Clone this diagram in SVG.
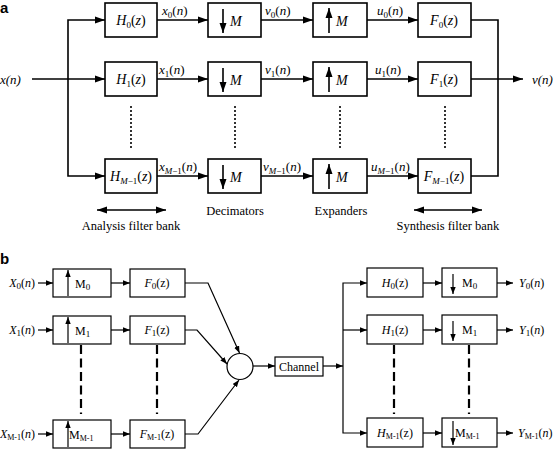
<svg xmlns="http://www.w3.org/2000/svg" width="553" height="450" viewBox="0 0 553 450">
<defs>
<marker id="ah" markerUnits="userSpaceOnUse" markerWidth="11" markerHeight="8" refX="10" refY="4" orient="auto-start-reverse"><path d="M0,0.5 L10,4 L0,7.5 z" fill="#000"/></marker>
<marker id="ahb" markerUnits="userSpaceOnUse" markerWidth="8" markerHeight="6" refX="7" refY="3" orient="auto-start-reverse"><path d="M0,0.3 L7,3 L0,5.7 z" fill="#000"/></marker>
</defs>
<style>
.bx{fill:#fff;stroke:#000;stroke-width:1.6}
.bxb{fill:#fff;stroke:#000;stroke-width:1.2}
.ln{fill:none;stroke:#000;stroke-width:1.6}
.lnb{fill:none;stroke:#000;stroke-width:1.2}
.dot{fill:none;stroke:#000;stroke-width:1.6;stroke-dasharray:2,2}
.dash{fill:none;stroke:#000;stroke-width:2.2;stroke-dasharray:9,4.5}
text{font-family:'Liberation Serif','Times New Roman','DejaVu Serif',serif;fill:#000}
.t{font-size:14px}
.tl{font-size:13px}
.tb{font-size:12px}
.lab{font-size:12.5px}
.i{font-style:italic}
.s{font-size:9px}
.ss{font-size:8px}
text.hd{font-family:'Liberation Sans',Arial,sans-serif;font-weight:bold;font-size:15px}
</style>

<text class="hd" x="0" y="13">a</text>
<text class="hd" x="0" y="264">b</text>

<!-- Part a connectors -->
<g id="connectors-a">
<line class="ln" x1="32" y1="79" x2="105" y2="79" marker-end="url(#ah)"/>
<path class="ln" d="M105,20 H68 V176 H105" marker-start="url(#ah)" marker-end="url(#ah)"/>
<line class="ln" x1="157" y1="20" x2="208" y2="20" marker-end="url(#ah)"/>
<line class="ln" x1="157" y1="79" x2="208" y2="79" marker-end="url(#ah)"/>
<line class="ln" x1="157" y1="176" x2="208" y2="176" marker-end="url(#ah)"/>
<line class="ln" x1="261" y1="20" x2="313" y2="20" marker-end="url(#ah)"/>
<line class="ln" x1="261" y1="79" x2="313" y2="79" marker-end="url(#ah)"/>
<line class="ln" x1="261" y1="176" x2="313" y2="176" marker-end="url(#ah)"/>
<line class="ln" x1="367" y1="20" x2="418" y2="20" marker-end="url(#ah)"/>
<line class="ln" x1="367" y1="79" x2="418" y2="79" marker-end="url(#ah)"/>
<line class="ln" x1="367" y1="176" x2="418" y2="176" marker-end="url(#ah)"/>
<path class="ln" d="M471,20 H498 V176 H471"/>
<line class="ln" x1="471" y1="79" x2="523" y2="79" marker-end="url(#ah)"/>
<line class="dot" x1="131" y1="106" x2="131" y2="148"/>
<line class="dot" x1="235" y1="106" x2="235" y2="148"/>
<line class="dot" x1="340" y1="106" x2="340" y2="148"/>
<line class="dot" x1="445" y1="106" x2="445" y2="148"/>
<line class="ln" x1="97" y1="210" x2="166" y2="210" marker-start="url(#ah)" marker-end="url(#ah)"/>
<line class="ln" x1="414" y1="210" x2="482" y2="210" marker-start="url(#ah)" marker-end="url(#ah)"/>
</g>

<!-- Part a labels -->
<text class="tl i" x="0" y="84">x(n)</text>
<text class="tl i" x="532" y="84">v(n)</text>
<text class="tl" x="162" y="15"><tspan class="i">x</tspan><tspan class="s" dy="3">0</tspan><tspan dy="-3">(</tspan><tspan class="i">n</tspan>)</text>
<text class="tl" x="159" y="74"><tspan class="i">x</tspan><tspan class="s" dy="3">1</tspan><tspan dy="-3">(</tspan><tspan class="i">n</tspan>)</text>
<text class="tl" x="159" y="171"><tspan class="i">x</tspan><tspan class="s i" dy="3">M</tspan><tspan class="s">−1</tspan><tspan dy="-3">(</tspan><tspan class="i">n</tspan>)</text>
<text class="tl" x="265" y="15"><tspan class="i">v</tspan><tspan class="s" dy="3">0</tspan><tspan dy="-3">(</tspan><tspan class="i">n</tspan>)</text>
<text class="tl" x="265" y="74"><tspan class="i">v</tspan><tspan class="s" dy="3">1</tspan><tspan dy="-3">(</tspan><tspan class="i">n</tspan>)</text>
<text class="tl" x="263" y="171"><tspan class="i">v</tspan><tspan class="s i" dy="3">M</tspan><tspan class="s">−1</tspan><tspan dy="-3">(</tspan><tspan class="i">n</tspan>)</text>
<text class="tl" x="377" y="15"><tspan class="i">u</tspan><tspan class="s" dy="3">0</tspan><tspan dy="-3">(</tspan><tspan class="i">n</tspan>)</text>
<text class="tl" x="375" y="74"><tspan class="i">u</tspan><tspan class="s" dy="3">1</tspan><tspan dy="-3">(</tspan><tspan class="i">n</tspan>)</text>
<text class="tl" x="371" y="171"><tspan class="i">u</tspan><tspan class="s i" dy="3">M</tspan><tspan class="s">−1</tspan><tspan dy="-3">(</tspan><tspan class="i">n</tspan>)</text>
<text class="lab" x="131" y="230" text-anchor="middle">Analysis filter bank</text>
<text class="lab" x="235" y="215" text-anchor="middle">Decimators</text>
<text class="lab" x="341" y="215" text-anchor="middle">Expanders</text>
<text class="lab" x="448" y="230" text-anchor="middle">Synthesis filter bank</text>

<!-- Part a nodes -->
<g id="a-H0"><rect class="bx" x="105" y="3" width="52" height="34"/><text class="t" x="131" y="25" text-anchor="middle"><tspan class="i">H</tspan><tspan class="s" dy="3">0</tspan><tspan dy="-3">(</tspan><tspan class="i">z</tspan>)</text></g>
<g id="a-H1"><rect class="bx" x="105" y="62" width="52" height="34"/><text class="t" x="131" y="84" text-anchor="middle"><tspan class="i">H</tspan><tspan class="s" dy="3">1</tspan><tspan dy="-3">(</tspan><tspan class="i">z</tspan>)</text></g>
<g id="a-HM"><rect class="bx" x="105" y="159" width="52" height="34"/><text class="t" x="131" y="181" text-anchor="middle"><tspan class="i">H</tspan><tspan class="s i" dy="3">M</tspan><tspan class="s">−1</tspan><tspan dy="-3">(</tspan><tspan class="i">z</tspan>)</text></g>

<g id="a-D0"><rect class="bx" x="208" y="3" width="53" height="34"/><line class="ln" x1="223" y1="9" x2="223" y2="33" marker-end="url(#ah)"/><text class="t i" x="230" y="26">M</text></g>
<g id="a-D1"><rect class="bx" x="208" y="62" width="53" height="34"/><line class="ln" x1="223" y1="68" x2="223" y2="92" marker-end="url(#ah)"/><text class="t i" x="230" y="85">M</text></g>
<g id="a-DM"><rect class="bx" x="208" y="159" width="53" height="34"/><line class="ln" x1="223" y1="165" x2="223" y2="189" marker-end="url(#ah)"/><text class="t i" x="230" y="182">M</text></g>

<g id="a-E0"><rect class="bx" x="313" y="3" width="54" height="34"/><line class="ln" x1="329" y1="33" x2="329" y2="8" marker-end="url(#ah)"/><text class="t i" x="336" y="26">M</text></g>
<g id="a-E1"><rect class="bx" x="313" y="62" width="54" height="34"/><line class="ln" x1="329" y1="92" x2="329" y2="67" marker-end="url(#ah)"/><text class="t i" x="336" y="85">M</text></g>
<g id="a-EM"><rect class="bx" x="313" y="159" width="54" height="34"/><line class="ln" x1="329" y1="189" x2="329" y2="164" marker-end="url(#ah)"/><text class="t i" x="336" y="182">M</text></g>

<g id="a-F0"><rect class="bx" x="418" y="3" width="53" height="34"/><text class="t" x="444" y="25" text-anchor="middle"><tspan class="i">F</tspan><tspan class="s" dy="3">0</tspan><tspan dy="-3">(</tspan><tspan class="i">z</tspan>)</text></g>
<g id="a-F1"><rect class="bx" x="418" y="62" width="53" height="34"/><text class="t" x="444" y="84" text-anchor="middle"><tspan class="i">F</tspan><tspan class="s" dy="3">1</tspan><tspan dy="-3">(</tspan><tspan class="i">z</tspan>)</text></g>
<g id="a-FM"><rect class="bx" x="418" y="159" width="53" height="34"/><text class="t" x="444" y="181" text-anchor="middle"><tspan class="i">F</tspan><tspan class="s i" dy="3">M</tspan><tspan class="s">−1</tspan><tspan dy="-3">(</tspan><tspan class="i">z</tspan>)</text></g>

<!-- Part b connectors -->
<g id="connectors-b">
<line class="lnb" x1="38" y1="283" x2="53" y2="283" marker-end="url(#ahb)"/>
<line class="lnb" x1="38" y1="330" x2="53" y2="330" marker-end="url(#ahb)"/>
<line class="lnb" x1="38" y1="434" x2="53" y2="434" marker-end="url(#ahb)"/>
<line class="lnb" x1="111" y1="283" x2="130" y2="283" marker-end="url(#ahb)"/>
<line class="lnb" x1="111" y1="330" x2="130" y2="330" marker-end="url(#ahb)"/>
<line class="lnb" x1="111" y1="434" x2="130" y2="434" marker-end="url(#ahb)"/>
<path class="lnb" d="M185,283 H208 L239.5,353" marker-end="url(#ahb)"/>
<path class="lnb" d="M185,330 H197 L227,364" marker-end="url(#ahb)"/>
<path class="lnb" d="M185,434 H198 L239,380" marker-end="url(#ahb)"/>
<line class="lnb" x1="253" y1="366" x2="275" y2="366" marker-end="url(#ahb)"/>
<line class="lnb" x1="323" y1="366" x2="343" y2="366" marker-end="url(#ahb)"/>
<path class="lnb" d="M367,283 H343 V433 H367" marker-start="url(#ahb)" marker-end="url(#ahb)"/>
<line class="lnb" x1="343" y1="330" x2="367" y2="330" marker-end="url(#ahb)"/>
<line class="lnb" x1="423" y1="283" x2="442" y2="283" marker-end="url(#ahb)"/>
<line class="lnb" x1="423" y1="330" x2="442" y2="330" marker-end="url(#ahb)"/>
<line class="lnb" x1="423" y1="433" x2="442" y2="433" marker-end="url(#ahb)"/>
<line class="lnb" x1="497" y1="283" x2="513" y2="283" marker-end="url(#ahb)"/>
<line class="lnb" x1="497" y1="330" x2="513" y2="330" marker-end="url(#ahb)"/>
<line class="lnb" x1="497" y1="433" x2="513" y2="433" marker-end="url(#ahb)"/>
<line class="dash" x1="81" y1="345" x2="81" y2="414"/>
<line class="dash" x1="157" y1="345" x2="157" y2="414"/>
<line class="dash" x1="394" y1="345" x2="394" y2="414"/>
<line class="dash" x1="469" y1="345" x2="469" y2="414"/>
</g>

<!-- Part b labels -->
<text class="tb" x="35" y="287" text-anchor="end"><tspan class="i">X</tspan><tspan class="s" dy="2">0</tspan><tspan dy="-2">(</tspan><tspan class="i">n</tspan>)</text>
<text class="tb" x="35" y="334" text-anchor="end"><tspan class="i">X</tspan><tspan class="s" dy="2">1</tspan><tspan dy="-2">(</tspan><tspan class="i">n</tspan>)</text>
<text class="tb" x="35" y="438" text-anchor="end"><tspan class="i">X</tspan><tspan class="ss" dy="2">M-1</tspan><tspan dy="-2">(</tspan><tspan class="i">n</tspan>)</text>
<text class="tb" x="519" y="287"><tspan class="i">Y</tspan><tspan class="s" dy="2">0</tspan><tspan dy="-2">(</tspan><tspan class="i">n</tspan>)</text>
<text class="tb" x="519" y="334"><tspan class="i">Y</tspan><tspan class="s" dy="2">1</tspan><tspan dy="-2">(</tspan><tspan class="i">n</tspan>)</text>
<text class="tb" x="518" y="437"><tspan class="i">Y</tspan><tspan class="ss" dy="2">M-1</tspan><tspan dy="-2">(</tspan><tspan class="i">n</tspan>)</text>

<!-- Part b nodes -->
<g id="b-U0"><rect class="bxb" x="53" y="269" width="58" height="28"/><line class="lnb" x1="68" y1="296" x2="68" y2="270" marker-end="url(#ahb)"/><text class="tb" x="75" y="288">M<tspan class="s" dy="2">0</tspan></text></g>
<g id="b-U1"><rect class="bxb" x="53" y="316" width="58" height="28"/><line class="lnb" x1="68" y1="343" x2="68" y2="317" marker-end="url(#ahb)"/><text class="tb" x="75" y="335">M<tspan class="s" dy="2">1</tspan></text></g>
<g id="b-UM"><rect class="bxb" x="53" y="420" width="58" height="28"/><line class="lnb" x1="68" y1="447" x2="68" y2="421" marker-end="url(#ahb)"/><text class="tb" x="69" y="439">M<tspan class="ss" dy="2">M-1</tspan></text></g>

<g id="b-F0"><rect class="bxb" x="130" y="269" width="55" height="28"/><text class="tb" x="157" y="287" text-anchor="middle"><tspan class="i">F</tspan><tspan class="s" dy="2">0</tspan><tspan dy="-2">(z)</tspan></text></g>
<g id="b-F1"><rect class="bxb" x="130" y="316" width="55" height="28"/><text class="tb" x="157" y="334" text-anchor="middle"><tspan class="i">F</tspan><tspan class="s" dy="2">1</tspan><tspan dy="-2">(z)</tspan></text></g>
<g id="b-FM"><rect class="bxb" x="130" y="420" width="55" height="28"/><text class="tb" x="157" y="438" text-anchor="middle"><tspan class="i">F</tspan><tspan class="ss" dy="2">M-1</tspan><tspan dy="-2">(z)</tspan></text></g>

<g id="b-sum"><circle class="bxb" cx="240" cy="366.5" r="13"/></g>
<g id="b-channel"><rect class="bxb" x="275" y="357" width="48" height="19"/><text class="tb" x="299" y="370.5" text-anchor="middle">Channel</text></g>

<g id="b-H0"><rect class="bxb" x="367" y="268" width="56" height="29"/><text class="tb" x="395" y="287" text-anchor="middle"><tspan class="i">H</tspan><tspan class="s" dy="2">0</tspan><tspan dy="-2">(z)</tspan></text></g>
<g id="b-H1"><rect class="bxb" x="367" y="315" width="56" height="29"/><text class="tb" x="395" y="334" text-anchor="middle"><tspan class="i">H</tspan><tspan class="s" dy="2">1</tspan><tspan dy="-2">(z)</tspan></text></g>
<g id="b-HM"><rect class="bxb" x="367" y="418" width="56" height="29"/><text class="tb" x="395" y="437" text-anchor="middle"><tspan class="i">H</tspan><tspan class="ss" dy="2">M-1</tspan><tspan dy="-2">(z)</tspan></text></g>

<g id="b-D0"><rect class="bxb" x="442" y="268" width="55" height="29"/><line class="lnb" x1="453" y1="274" x2="453" y2="294" marker-end="url(#ahb)"/><text class="tb" x="462" y="287">M<tspan class="s" dy="2">0</tspan></text></g>
<g id="b-D1"><rect class="bxb" x="442" y="315" width="55" height="29"/><line class="lnb" x1="453" y1="321" x2="453" y2="341" marker-end="url(#ahb)"/><text class="tb" x="462" y="334">M<tspan class="s" dy="2">1</tspan></text></g>
<g id="b-DM"><rect class="bxb" x="442" y="418" width="55" height="29"/><line class="lnb" x1="453" y1="421" x2="453" y2="445" marker-end="url(#ahb)"/><text class="tb" x="455" y="437">M<tspan class="ss" dy="2">M-1</tspan></text></g>
</svg>
